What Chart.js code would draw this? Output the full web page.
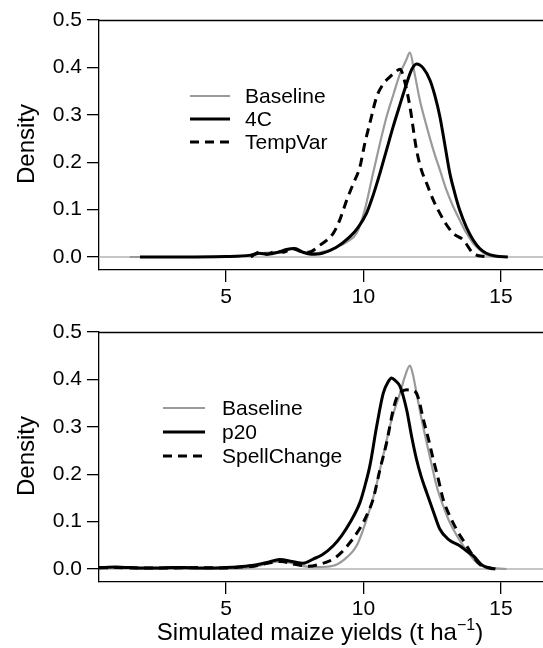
<!DOCTYPE html>
<html>
<head>
<meta charset="utf-8">
<script src="https://cdn.jsdelivr.net/npm/chart.js@4.4.0/dist/chart.umd.min.js"></script>
<style>
html,body{margin:0;padding:0;background:#fff;width:543px;height:648px;overflow:hidden;}
canvas{position:absolute;left:0;}
#c1{top:0;}
#c2{top:312px;}
</style>
</head>
<body>
<canvas id="c1" width="543" height="320"></canvas>
<canvas id="c2" width="543" height="336"></canvas>
<script>
// ---- axis ticks ----
const xTicks = [5, 10, 15];
const yTicks = [0, 0.1, 0.2, 0.3, 0.4, 0.5];
const xRange = [0.38, 16.53];
const yRange = [-0.0274, 0.5];

// ---- top panel ----
const topLabels = ["Baseline", "4C", "TempVar"];
const topBaselineX = [1.5, 3, 5, 5.9, 6.3, 6.7, 7.1, 7.45, 7.8, 8.2, 8.6, 9.0, 9.4, 9.75, 10.05, 10.35, 10.6, 10.84, 11.1, 11.33, 11.55, 11.69, 11.85, 12.05, 12.3, 12.54, 12.8, 13.02, 13.25, 13.5, 13.75, 13.99, 14.25, 14.47, 14.8, 15.1];
const topBaselineY = [0, 0, 0.001, 0.003, 0.008, 0.01, 0.012, 0.018, 0.01, 0.008, 0.012, 0.02, 0.032, 0.05, 0.1, 0.177, 0.24, 0.296, 0.345, 0.387, 0.415, 0.431, 0.39, 0.331, 0.275, 0.226, 0.18, 0.141, 0.108, 0.078, 0.05, 0.029, 0.014, 0.005, 0.001, 0];
const top4CX = [1.87, 3, 5, 5.9, 6.2, 6.5, 6.9, 7.2, 7.5, 7.8, 8.1, 8.5, 9.0, 9.51, 9.8, 10.11, 10.35, 10.6, 10.84, 11.08, 11.33, 11.57, 11.75, 11.93, 12.18, 12.42, 12.6, 12.78, 12.96, 13.14, 13.32, 13.5, 13.75, 13.99, 14.23, 14.47, 14.8, 15.25];
const top4CY = [0, 0, 0.001, 0.004, 0.008, 0.006, 0.01, 0.016, 0.018, 0.01, 0.006, 0.008, 0.02, 0.043, 0.062, 0.092, 0.13, 0.177, 0.226, 0.275, 0.322, 0.366, 0.395, 0.407, 0.398, 0.373, 0.34, 0.296, 0.237, 0.177, 0.135, 0.099, 0.062, 0.036, 0.018, 0.008, 0.002, 0];
const topTempVarX = [5.9, 6.2, 6.5, 6.8, 7.1, 7.4, 7.7, 8.0, 8.42, 8.9, 9.15, 9.39, 9.63, 9.87, 10.05, 10.23, 10.48, 10.72, 10.96, 11.15, 11.33, 11.5, 11.69, 11.93, 12.1, 12.3, 12.54, 12.78, 13.02, 13.26, 13.63, 13.99, 14.5];
const topTempVarY = [0, 0.01, 0.006, 0.012, 0.01, 0.018, 0.012, 0.01, 0.025, 0.05, 0.08, 0.12, 0.155, 0.19, 0.24, 0.282, 0.338, 0.365, 0.38, 0.39, 0.396, 0.37, 0.317, 0.226, 0.185, 0.155, 0.12, 0.092, 0.068, 0.05, 0.036, 0.008, 0];

// ---- bottom panel ----
const botLabels = ["Baseline", "p20", "SpellChange"];
const botBaselineX = [1.5, 3, 5, 6.0, 6.5, 7.0, 7.4, 7.8, 8.3, 8.9, 9.3, 9.75, 10.0, 10.23, 10.42, 10.6, 10.78, 10.96, 11.15, 11.33, 11.5, 11.69, 11.8, 11.93, 12.1, 12.3, 12.48, 12.66, 12.9, 13.14, 13.38, 13.63, 13.87, 14.11, 14.5, 15.2];
const botBaselineY = [0, 0, 0.001, 0.004, 0.012, 0.016, 0.012, 0.006, 0.004, 0.007, 0.02, 0.049, 0.085, 0.126, 0.165, 0.21, 0.255, 0.301, 0.34, 0.371, 0.405, 0.429, 0.41, 0.371, 0.32, 0.266, 0.22, 0.175, 0.133, 0.098, 0.072, 0.049, 0.03, 0.014, 0.004, 0];
const botP20X = [0.38, 1.0, 1.5, 2.0, 2.5, 3.0, 3.5, 4.0, 4.5, 5.0, 5.5, 6.0, 6.5, 6.96, 7.4, 7.8, 8.17, 8.5, 8.9, 9.2, 9.51, 9.87, 10.05, 10.23, 10.48, 10.72, 10.9, 11.02, 11.15, 11.33, 11.57, 11.75, 11.93, 12.1, 12.3, 12.55, 12.78, 13.1, 13.5, 13.75, 13.99, 14.35, 14.8];
const botP20Y = [0.003, 0.004, 0.003, 0.002, 0.002, 0.003, 0.003, 0.002, 0.002, 0.003, 0.005, 0.008, 0.014, 0.02, 0.016, 0.012, 0.021, 0.03, 0.049, 0.07, 0.098, 0.14, 0.175, 0.217, 0.301, 0.371, 0.395, 0.403, 0.398, 0.385, 0.336, 0.28, 0.231, 0.195, 0.161, 0.12, 0.084, 0.062, 0.049, 0.038, 0.028, 0.007, 0];
const botSpellX = [0.38, 1.0, 2.0, 3.0, 4.0, 5.0, 5.5, 6.0, 6.5, 7.0, 7.5, 8.0, 8.4, 8.9, 9.2, 9.51, 9.75, 9.99, 10.17, 10.35, 10.6, 10.84, 11.08, 11.2, 11.33, 11.57, 11.75, 11.87, 12.0, 12.18, 12.36, 12.54, 12.72, 12.9, 13.14, 13.38, 13.63, 13.87, 14.23, 14.7];
const botSpellY = [0.002, 0.003, 0.002, 0.002, 0.003, 0.002, 0.004, 0.006, 0.012, 0.016, 0.01, 0.006, 0.01, 0.021, 0.035, 0.056, 0.075, 0.098, 0.12, 0.147, 0.21, 0.266, 0.336, 0.36, 0.371, 0.378, 0.377, 0.375, 0.36, 0.315, 0.275, 0.231, 0.19, 0.147, 0.112, 0.084, 0.06, 0.038, 0.01, 0];

const xTitle = "Simulated maize yields (t ha";
const xTitleSup = "\u22121";
const yTitle = "Density";

const FONT = "'Liberation Sans', Arial, Helvetica, sans-serif";
const GREY = "#9a9a9a";
const styles = [
  {color: GREY, width: 2.2, dash: []},
  {color: "#000", width: 3, dash: []},
  {color: "#000", width: 3, dash: [9, 6]}
];

function pts(xs, ys){ return xs.map((x,i)=>({x:x, y:ys[i]})); }

function makeChart(id, series, labels, opt){
  const datasets = [{
    data: [{x:xRange[0], y:0},{x:xRange[1], y:0}],
    borderColor: "#b3b3b3", borderWidth: 1.6, pointRadius: 0, order: 10, tension: 0
  }];
  series.forEach((s,i)=>{
    datasets.push({
      label: labels[i],
      data: pts(s[0], s[1]),
      borderColor: styles[i].color,
      borderWidth: styles[i].width,
      borderDash: styles[i].dash,
      pointRadius: 0,
      cubicInterpolationMode: 'monotone',
      order: 5 - i,
      fill: false
    });
  });
  const deco = {
    id: 'deco',
    afterDraw(chart){
      const ctx = chart.ctx, a = chart.chartArea;
      ctx.save();
      // top frame line
      ctx.strokeStyle = "#000"; ctx.lineWidth = 1.3; ctx.setLineDash([]);
      ctx.beginPath(); ctx.moveTo(a.left, a.top + 0.5); ctx.lineTo(a.right, a.top + 0.5); ctx.stroke();
      // legend
      ctx.font = "21px " + FONT;
      ctx.textBaseline = "middle"; ctx.textAlign = "left"; ctx.fillStyle = "#000";
      labels.forEach((lab,i)=>{
        const y = opt.legY + i * opt.legDy;
        ctx.strokeStyle = styles[i].color; ctx.lineWidth = styles[i].width;
        ctx.setLineDash(styles[i].dash);
        ctx.beginPath(); ctx.moveTo(opt.legX0, y); ctx.lineTo(opt.legX1, y); ctx.stroke();
        ctx.fillText(lab, opt.legTx, y + 1);
      });
      ctx.setLineDash([]);
      // y title
      ctx.save();
      ctx.translate(27, (a.top + a.bottom)/2 - 1);
      ctx.rotate(-Math.PI/2);
      ctx.font = "24px " + FONT; ctx.textAlign = "center"; ctx.textBaseline = "middle";
      ctx.fillText(yTitle, 0, 0);
      ctx.restore();
      // x title
      if (opt.xTitleY) {
        ctx.font = "24px " + FONT;
        const w1 = ctx.measureText(xTitle).width;
        ctx.font = "16px " + FONT;
        const w2 = ctx.measureText(xTitleSup).width;
        ctx.font = "24px " + FONT;
        const w3 = ctx.measureText(")").width;
        let x = 320 - (w1 + w2 + w3)/2;
        ctx.textAlign = "left"; ctx.textBaseline = "middle";
        ctx.fillText(xTitle, x, opt.xTitleY); x += w1;
        ctx.font = "16px " + FONT;
        ctx.fillText(xTitleSup, x, opt.xTitleY - 7); x += w2;
        ctx.font = "24px " + FONT;
        ctx.fillText(")", x, opt.xTitleY);
      }
      ctx.restore();
    }
  };
  return new Chart(document.getElementById(id), {
    type: 'line',
    data: { datasets },
    plugins: [deco],
    options: {
      responsive: false, animation: false, devicePixelRatio: 1,
      layout: { padding: { top: 20, left: 0, right: 0, bottom: 0 } },
      plugins: { legend: { display: false }, tooltip: { enabled: false } },
      scales: {
        x: {
          type: 'linear', min: xRange[0], max: xRange[1],
          afterBuildTicks(s){ s.ticks = xTicks.map(v=>({value:v})); },
          afterFit(s){ s.height = opt.xHeight; },
          grid: { drawOnChartArea: false, drawTicks: true, tickLength: 12, color: "#000", lineWidth: 1.3 },
          border: { display: true, color: "#000", width: 1.3 },
          ticks: { color: "#000", font: { family: FONT, size: 21 }, padding: 3, maxRotation: 0, autoSkip: false }
        },
        y: {
          type: 'linear', min: yRange[0], max: yRange[1],
          afterBuildTicks(s){ s.ticks = yTicks.map(v=>({value:v})); },
          afterFit(s){ s.width = 99; },
          grid: { drawOnChartArea: false, drawTicks: true, tickLength: 12, color: "#000", lineWidth: 1.3 },
          border: { display: true, color: "#000", width: 1.3 },
          ticks: { color: "#000", font: { family: FONT, size: 21 }, padding: 5,
                   callback: v => Number(v).toFixed(1) }
        }
      }
    }
  });
}

makeChart('c1', [[topBaselineX, topBaselineY],[top4CX, top4CY],[topTempVarX, topTempVarY]], topLabels,
  { xHeight: 50, legX0: 190, legX1: 230, legTx: 245, legY: 96, legDy: 23, xTitleY: null });
makeChart('c2', [[botBaselineX, botBaselineY],[botP20X, botP20Y],[botSpellX, botSpellY]], botLabels,
  { xHeight: 66, legX0: 163, legX1: 205, legTx: 222, legY: 96, legDy: 24, xTitleY: 321 });
</script>
</body>
</html>
